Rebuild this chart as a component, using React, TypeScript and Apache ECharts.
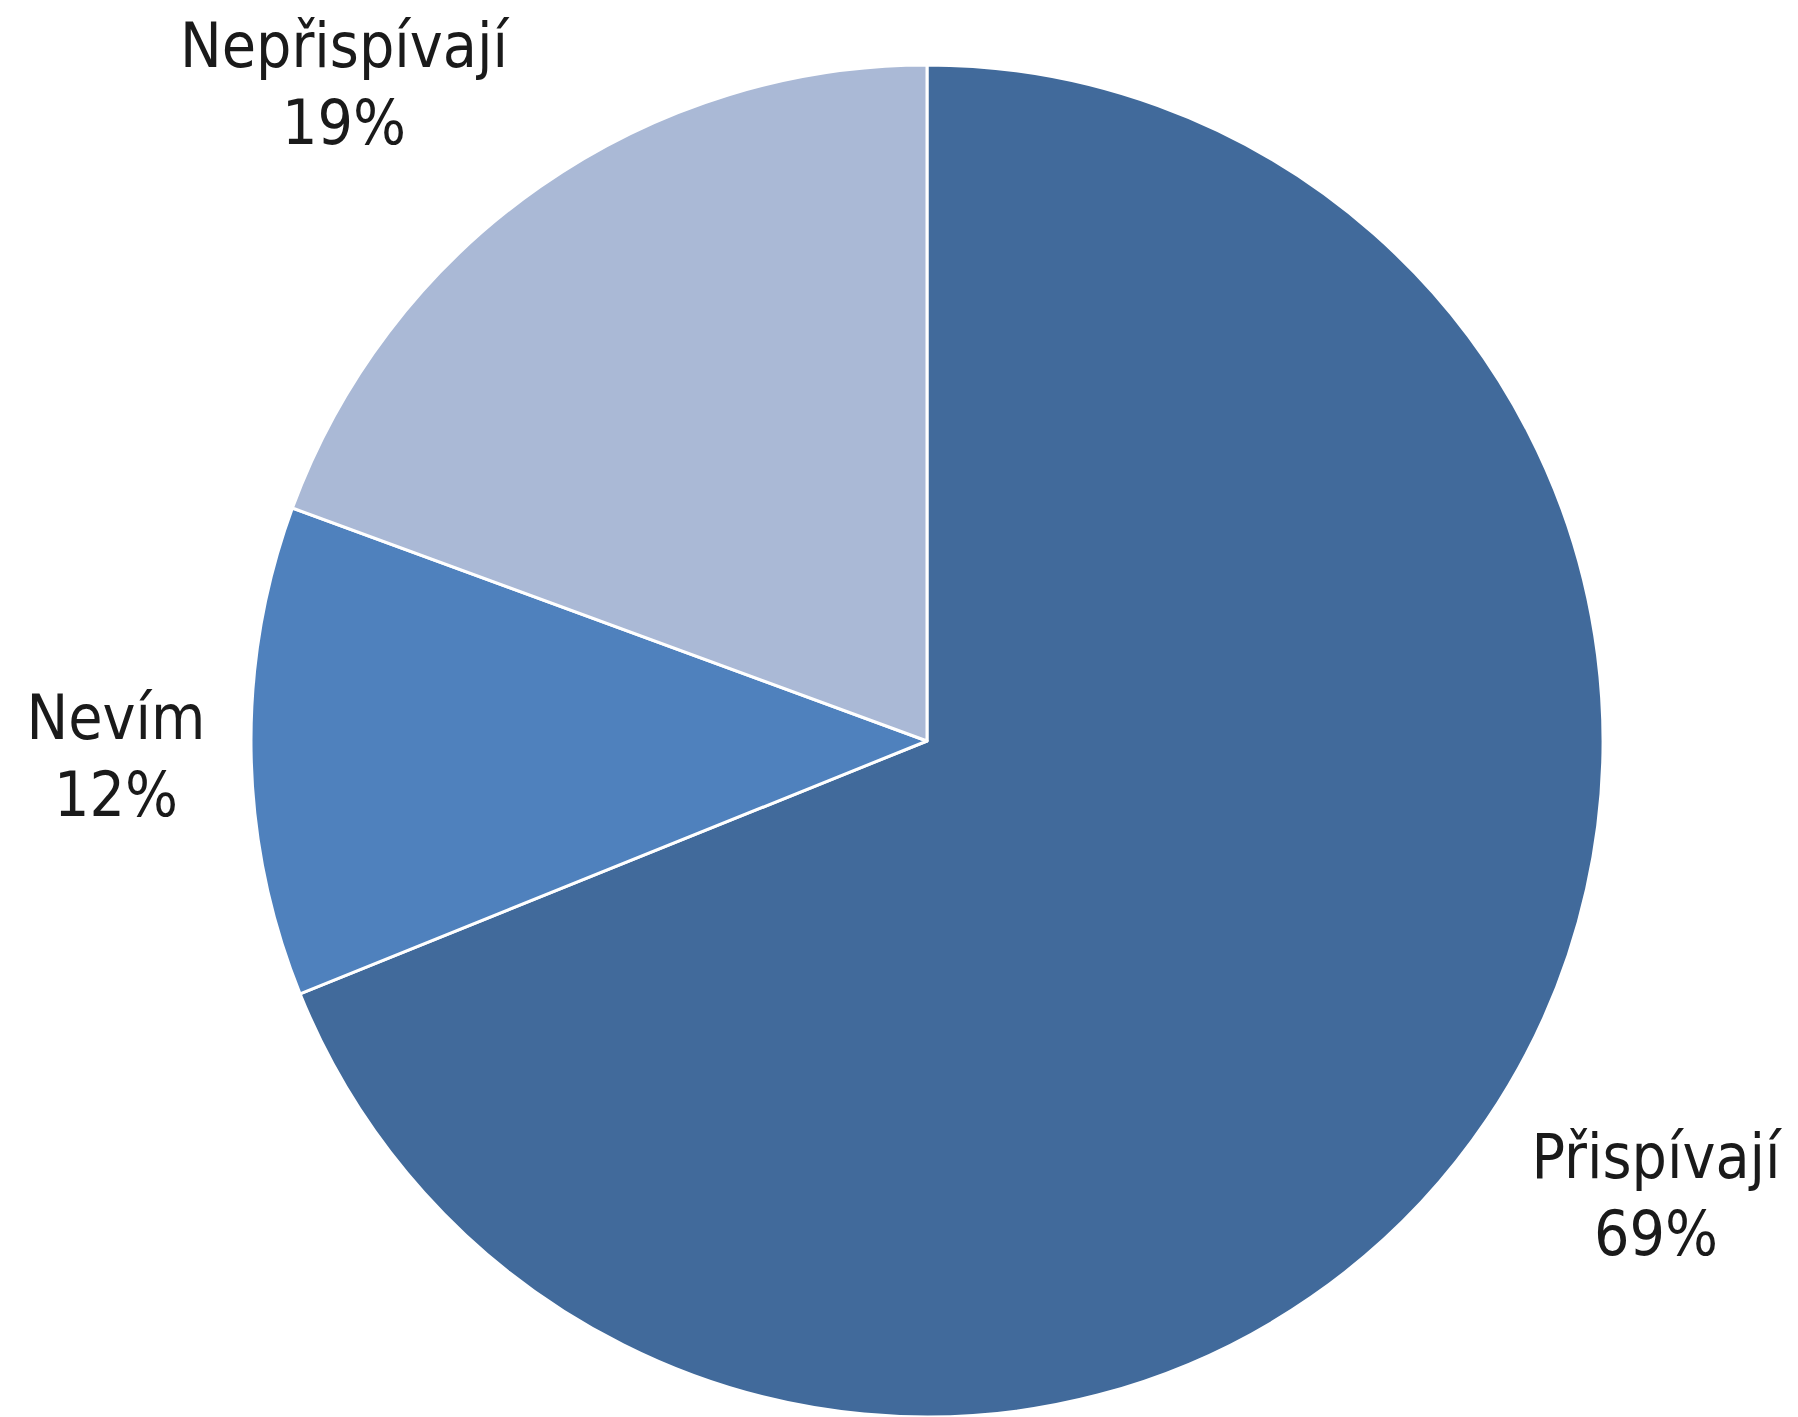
import React, { useEffect, useRef } from "react";
import * as echarts from "echarts";

const categories = ["Přispívají", "Nevím", "Nepřispívají"];
const values = [68.9, 11.7, 19.4];
const colors = ["#416A9B", "#4F81BD", "#AAB9D6"];
// label block centres (layout only)
const labelCentres: [number, number][] = [
  [1656, 1195],
  [116, 756],
  [344, 84],
];

export default function App() {
  const ref = useRef<HTMLDivElement>(null);
  useEffect(() => {
    if (!ref.current) return;
    const chart = echarts.init(ref.current, null, { renderer: "svg" });
    chart.setOption({
      animation: false,
      backgroundColor: "#ffffff",
      series: [
        {
          type: "pie",
          center: [927, 741],
          radius: [0, 676],
          startAngle: 90,
          clockwise: true,
          percentPrecision: 0,
          data: categories.map((c, i) => ({
            name: c,
            value: values[i],
            itemStyle: { color: colors[i] },
          })),
          itemStyle: { borderColor: "#ffffff", borderWidth: 3 },
          label: {
            show: true,
            position: "outside",
            formatter: "{b}\n{d}%",
            fontFamily: "DejaVu Sans Condensed",
            fontSize: 62,
            lineHeight: 77,
            color: "#1a1a1a",
            align: "center",
          },
          labelLine: { show: false },
          labelLayout: (p: any) => ({
            x: labelCentres[p.dataIndex][0],
            y: labelCentres[p.dataIndex][1],
            align: "center",
            verticalAlign: "middle",
          }),
          emphasis: { disabled: true },
        },
      ],
    });
    return () => chart.dispose();
  }, []);
  return (
    <div
      ref={ref}
      style={{ position: "fixed", left: 0, top: 0, width: 1798, height: 1417 }}
    />
  );
}
